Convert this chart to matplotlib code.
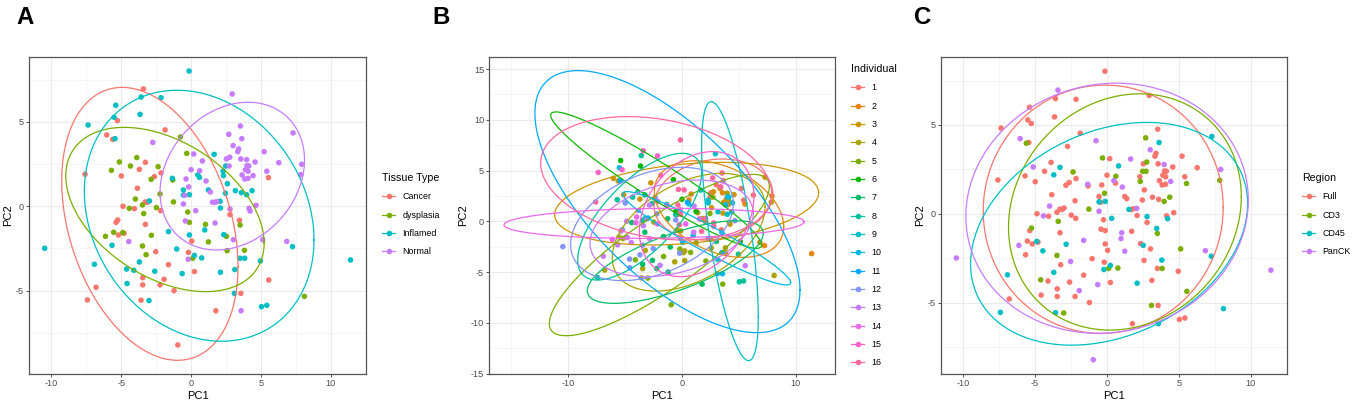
import numpy as np
import matplotlib
matplotlib.use("Agg")
import matplotlib.pyplot as plt
from matplotlib.lines import Line2D

plt.rcParams['font.family'] = ['Liberation Sans', 'DejaVu Sans']

# each row: PC1, PC2, region code, individual
cancer = [
    [-3.41, 6.96, 'P', 15], [-5.27, 5.08, 'F', 15], [-6.04, 4.23, 'P', 3], [-5.61, 3.97, '3', 3],
    [-1.86, 4.53, 'F', 15], [-7.59, 1.90, 'F', 16], [-4.99, 1.80, 'F', 12], [-3.70, 2.19, '45', 3],
    [-3.27, 2.61, '45', 7], [-2.63, 1.76, 'F', 8], [-2.15, 1.98, 'F', 13], [-3.84, 1.07, 'F', 12],
    [-4.87, 0.00, 'F', 13], [-4.06, -0.14, 'F', 14], [-3.27, 0.26, 'F', 8], [-3.13, 0.24, 'F', 12],
    [-2.17, -0.26, 'F', 14], [-5.25, -0.81, '3', 12], [-5.37, -0.95, 'F', 13], [-3.27, -1.07, 'F', 7],
    [-5.20, -1.70, 'F', 4], [-4.80, -1.60, 'F', 13], [-2.53, -2.69, 'P', 12], [-1.62, -3.46, 'F', 5],
    [-3.46, -4.23, 'F', 7], [-3.46, -4.66, 'F', 4], [-1.93, -4.33, 'P', 13], [-2.22, -4.66, 'F', 7],
    [-1.22, -5.00, 'F', 7], [-6.80, -4.80, 'F', 4], [-7.42, -5.55, '45', 8], [-3.58, -5.57, '45', 4],
    [-0.95, -8.22, 'P', 5], [0.05, -2.06, 'F', 10], [-0.19, -2.73, 'F', 5], [0.24, -3.87, 'F', 4],
    [1.77, -6.19, 'F', 7], [2.79, -0.49, 'F', 16], [3.46, -0.83, '45', 1], [3.56, -5.16, 'F', 10],
    [5.54, 1.70, '3', 2], [5.56, -4.37, '3', 13],
]

dysplasia = [
    [-0.76, 4.11, 'P', 6], [-0.31, 3.14, '3', 16], [-3.89, 2.89, 'F', 8], [-5.13, 2.63, 'P', 3],
    [-4.34, 2.39, 'F', 8], [-2.36, 2.35, '3', 12], [-5.70, 2.13, 'F', 8], [-2.86, 1.60, 'F', 13],
    [-1.31, 1.56, 'F', 14], [-2.22, 0.73, 'F', 12], [-3.99, 0.43, 'P', 14], [-3.48, 0.08, 'F', 8],
    [-4.42, -0.12, 'P', 7], [-2.48, -0.08, 'F', 4], [-1.26, 0.26, '3', 7], [-3.39, -0.43, '3', 13],
    [-0.24, -0.34, 'F', 16], [-0.12, -0.95, 'F', 4], [-6.13, -1.78, 'P', 14], [-5.54, -1.54, 'F', 4],
    [-4.89, -1.56, '45', 3], [-2.84, -1.72, '45', 13], [-3.48, -2.35, '3', 12], [-3.22, -2.87, 'F', 4],
    [1.03, -1.07, 'P', 13], [1.24, -2.11, 'P', 5], [2.53, -1.78, '45', 4], [3.51, -1.11, '3', 10],
    [2.58, -2.63, 'F', 4], [3.82, -2.61, '45', 4], [0.12, -3.08, '3', 4], [8.11, -5.34, '45', 4],
]

inflamed = [
    [-0.14, 8.02, 'F', 16], [-3.58, 6.48, 'F', 8], [-2.15, 6.44, 'F', 15], [-5.39, 5.99, 'F', 6],
    [-5.51, 5.28, 'F', 10], [-3.65, 5.45, 'F', 6], [-7.37, 4.82, 'F', 15], [-5.44, 4.01, 'F', 11],
    [1.65, 3.08, 'P', 9], [-1.34, 1.66, 'P', 8], [0.48, 1.86, 'P', 11], [0.60, 1.72, 'F', 10],
    [-0.55, 0.97, 'F', 6], [-0.55, 0.67, '45', 8], [-0.12, 0.69, '45', 16], [-2.98, 0.32, 'F', 11],
    [1.24, 0.97, 'F', 6], [2.29, 2.08, 'F', 9], [2.32, 1.82, '3', 9], [2.60, 1.34, 'F', 3],
    [2.46, 0.77, 'F', 5], [2.08, 0.30, 'P', 16], [2.10, -0.10, 'F', 2], [2.48, 2.39, '3', 1],
    [3.17, 0.93, 'F', 9], [3.60, 0.81, 'F', 3], [3.98, 0.69, '3', 9], [4.37, 0.93, '3', 9],
    [-1.62, -1.50, 'P', 7], [-0.12, -1.70, 'F', 10], [0.98, -1.40, 'P', 10], [2.34, -1.68, 'F', 11],
    [-1.03, -2.53, 'F', 7], [0.24, -2.91, '45', 4], [0.76, -3.06, '3', 5], [-5.66, -2.31, 'F', 13],
    [-3.70, -3.30, '45', 12], [-4.61, -3.72, '3', 12], [-4.10, -3.79, 'F', 5], [-2.60, -3.85, 'F', 7],
    [-0.64, -3.99, 'P', 4], [-4.58, -4.58, 'F', 12], [-3.01, -5.59, '3', 5], [-6.92, -3.44, '45', 13],
    [-10.48, -2.49, 'P', 12], [2.10, -3.91, '45', 5], [3.13, -3.75, 'F', 9], [3.10, -5.16, '3', 11],
    [3.51, -3.08, 'F', 10], [3.84, -3.08, '3', 4], [4.96, -3.24, 'F', 8], [7.26, -2.39, '45', 2],
    [11.41, -3.18, 'P', 2], [5.04, -5.95, 'F', 8], [5.42, -5.87, 'F', 8],
]

normal = [
    [2.94, 6.66, 'F', 9], [3.53, 4.76, 'F', 16], [2.70, 4.27, '3', 16], [3.63, 4.01, '45', 1],
    [7.30, 4.35, '45', 2], [3.01, 3.60, 'P', 1], [3.34, 3.24, 'F', 3], [3.41, 3.40, 'F', 16],
    [5.23, 3.24, 'F', 1], [0.19, 3.10, 'F', 16], [2.53, 2.81, 'F', 1], [2.77, 2.91, '3', 3],
    [3.56, 2.81, 'F', 2], [3.98, 2.77, 'P', 4], [4.58, 2.63, 'F', 3], [6.28, 2.59, 'F', 1],
    [7.92, 2.49, 'P', 3], [0.81, 2.69, '45', 2], [4.01, 2.41, 'F', 10], [4.13, 2.39, 'F', 9],
    [3.89, 2.17, 'F', 2], [4.08, 2.08, 'F', 4], [2.72, 2.39, '3', 4], [3.65, 1.86, 'F', 3],
    [4.44, 1.82, 'P', 9], [3.84, 1.62, 'F', 10], [4.08, 1.66, 'F', 2], [5.42, 2.08, 'F', 1],
    [7.85, 1.88, '3', 4], [0.00, 2.17, 'F', 6], [0.62, 2.11, '3', 2], [-0.36, 1.62, 'F', 16],
    [1.07, 1.50, 'P', 13], [-0.17, 1.15, '3', 16], [1.38, 0.85, 'F', 3], [-0.45, 0.65, 'F', 1],
    [1.53, 0.24, '45', 14], [1.72, 0.24, 'F', 3], [1.84, 0.28, 'F', 4], [2.79, -0.16, '45', 16],
    [4.65, 0.06, 'F', 12], [4.15, -0.12, 'F', 4], [4.22, -0.28, '45', 3], [-0.55, 0.14, 'P', 12],
    [0.33, -0.26, '45', 14], [-0.41, -0.87, 'F', 4], [1.72, -0.99, 'F', 16], [3.03, -1.98, 'F', 7],
    [5.13, -1.98, '3', 6], [6.85, -2.08, 'P', 2], [-2.74, 3.79, 'F', 3], [-4.46, -2.09, '45', 13],
    [-0.21, -3.14, '45', 12], [3.58, -6.19, '45', 5],
]

tissue_names = ['Cancer', 'dysplasia', 'Inflamed', 'Normal']
region_codes = ['F', '3', '45', 'P']
region_names = ['Full', 'CD3', 'CD45', 'PanCK']
individuals = list(range(1, 17))

# ellipses: centre x, centre y, half width, half height,
# y offset of the rightmost point from the centre
ell_tissue = [
    [-2.95, -1.04, 6.31, 8.09, -2.54],
    [-1.87, -0.19, 7.10, 4.87, -2.00],
    [0.58, -0.56, 8.22, 7.44, -1.44],
    [2.95, 1.79, 5.17, 4.38, 0.96],
]
ell_region = [
    [-0.26, 0.25, 8.35, 6.99, 0.10],
    [1.25, 0.10, 8.10, 6.65, 0.86],
    [0.15, -1.13, 9.64, 6.27, 1.70],
    [0.01, 0.31, 9.83, 7.04, 0.46],
]
ell_indiv = [
    [2.76, 2.15, 5.22, 3.99, 0.61],
    [3.26, 1.21, 5.69, 4.76, -1.74],
    [0.41, 1.74, 11.61, 4.07, 1.08],
    [0.59, -1.07, 6.72, 5.80, 2.51],
    [-1.99, -3.32, 9.68, 7.95, 6.74],
    [-2.27, 4.06, 9.28, 6.72, -6.39],
    [-0.59, -4.01, 7.74, 4.07, 2.83],
    [-3.72, 0.46, 5.45, 6.24, 4.27],
    [4.22, -0.97, 2.49, 12.76, -8.42],
    [2.17, -1.67, 7.39, 4.60, -4.37],
    [-1.28, 1.94, 11.66, 12.91, -8.71],
    [-2.64, -0.26, 7.16, 5.58, 2.03],
    [-0.91, -0.69, 7.18, 4.76, 1.48],
    [-2.46, -0.20, 13.20, 1.48, 0.15],
    [1.29, 0.71, 5.04, 6.16, 1.72],
    [-2.27, 4.24, 10.16, 6.08, -1.48],
]


def hcl_color(h, c=100, l=65):
    # ggplot's default hue palette colour
    xn, yn, zn = 95.047, 100.0, 108.883
    u = c * np.cos(np.radians(h))
    v = c * np.sin(np.radians(h))
    y = yn * ((l + 16) / 116) ** 3
    d = xn + 15 * yn + 3 * zn
    up = u / (13 * l) + 4 * xn / d
    vp = v / (13 * l) + 9 * yn / d
    x = 9 * y * up / (4 * vp)
    z = y * (12 - 3 * up - 20 * vp) / (4 * vp)
    x, y, z = x / 100, y / 100, z / 100
    rgb = [3.240479 * x - 1.537150 * y - 0.498535 * z,
           -0.969256 * x + 1.875992 * y + 0.041556 * z,
           0.055648 * x - 0.204043 * y + 1.057311 * z]
    out = []
    for t in rgb:
        t = min(max(t, 0), 1)
        out.append(12.92 * t if t <= 0.0031308 else 1.055 * t ** (1 / 2.4) - 0.055)
    return tuple(out)


def hue_pal(n):
    return [hcl_color(h) for h in np.linspace(15, 375, n + 1)[:n]]


def ellipse_xy(e):
    cx, cy, hx, hy, r = e
    t = np.linspace(0, 2 * np.pi, 200)
    return cx + hx * np.cos(t), cy + r * np.cos(t) + np.sqrt(hy ** 2 - r ** 2) * np.sin(t)


tables = [cancer, dysplasia, inflamed, normal]
rows = [row for tab in tables for row in tab]
pc1 = np.array([row[0] for row in rows])
pc2 = np.array([row[1] for row in rows])
tissue = np.array([i for i, tab in enumerate(tables) for _ in tab])
region = np.array([region_codes.index(row[2]) for row in rows])
indiv = np.array([row[3] - 1 for row in rows])

W, H = 1358, 404
fig = plt.figure(figsize=(W / 100, H / 100), dpi=100)


def px(x, y):
    return x / W, 1 - y / H


def panel(rect, groups, names, ells, xlim, ylim, xmaj, xmin, ymaj, ymin,
          title, leg_xy, letter, letter_x):
    ax = fig.add_axes(rect)
    cols = hue_pal(len(names))
    for g in range(len(names)):
        m = groups == g
        ax.scatter(pc1[m], pc2[m], s=16, color=cols[g], edgecolors='none', zorder=3)
    for g, e in enumerate(ells):
        ex, ey = ellipse_xy(e)
        ax.plot(ex, ey, color=cols[g], lw=0.9, zorder=4)
    ax.set_xlim(*xlim)
    ax.set_ylim(*ylim)
    ax.set_xticks(xmaj)
    ax.set_xticks(xmin, minor=True)
    ax.set_yticks(ymaj)
    ax.set_yticks(ymin, minor=True)
    ax.set_xticklabels([str(v) for v in xmaj])
    ax.set_yticklabels([str(v) for v in ymaj])
    ax.grid(which='major', color='#EBEBEB', lw=0.8, zorder=0)
    ax.grid(which='minor', color='#F1F1F1', lw=0.5, zorder=0)
    ax.set_axisbelow(True)
    ax.tick_params(which='major', length=2.2, width=0.6, color='#333333',
                   labelsize=6.6, labelcolor='#4D4D4D', pad=1.5)
    ax.tick_params(which='minor', length=0)
    for s in ax.spines.values():
        s.set_color('#555555')
        s.set_linewidth(0.9)
    ax.set_xlabel('PC1', fontsize=8, labelpad=2)
    ax.set_ylabel('PC2', fontsize=8, labelpad=2)

    handles = [Line2D([], [], color=c, lw=0.9, marker='o', markersize=4,
                      markeredgewidth=0) for c in cols]
    fig.legend(handles, names, title=title, loc='upper left',
               bbox_to_anchor=px(*leg_xy), frameon=False, fontsize=6.4,
               title_fontsize=7.7, handlelength=1.5, handletextpad=0.8,
               labelspacing=1.05, borderpad=0, borderaxespad=0, alignment='left')
    lx, ly = px(letter_x, 24)
    fig.text(lx, ly, letter, fontsize=17.3, fontweight='bold', va='baseline')
    return ax


ax_bottom = (H - 374.3) / H
ax_height = (374.3 - 56.7) / H

panel([29.3 / W, ax_bottom, (365.7 - 29.3) / W, ax_height], tissue, tissue_names,
      ell_tissue, (-11.58, 12.5), (-9.96, 8.87), [-10, -5, 0, 5, 10],
      [-7.5, -2.5, 2.5, 7.5], [-5, 0, 5], [-7.5, -2.5, 2.5, 7.5],
      'Tissue Type', (382, 173), 'A', 16)

panel([489.3 / W, ax_bottom, (835 - 489.3) / W, ax_height], indiv,
      [str(i) for i in individuals], ell_indiv, (-16.95, 13.46), (-15.07, 16.22),
      [-10, 0, 10], [-15, -5, 5], [-15, -10, -5, 0, 5, 10, 15],
      [-12.5, -7.5, -2.5, 2.5, 7.5, 12.5], 'Individual', (851, 64), 'B', 432)

panel([940.7 / W, ax_bottom, (1286.7 - 940.7) / W, ax_height], region, region_names,
      ell_region, (-11.57, 12.51), (-9.04, 8.84), [-10, -5, 0, 5, 10],
      [-7.5, -2.5, 2.5, 7.5], [-5, 0, 5], [-7.5, -2.5, 2.5, 7.5],
      'Region', (1302, 173), 'C', 914)

fig.savefig('out.png', dpi=100)
